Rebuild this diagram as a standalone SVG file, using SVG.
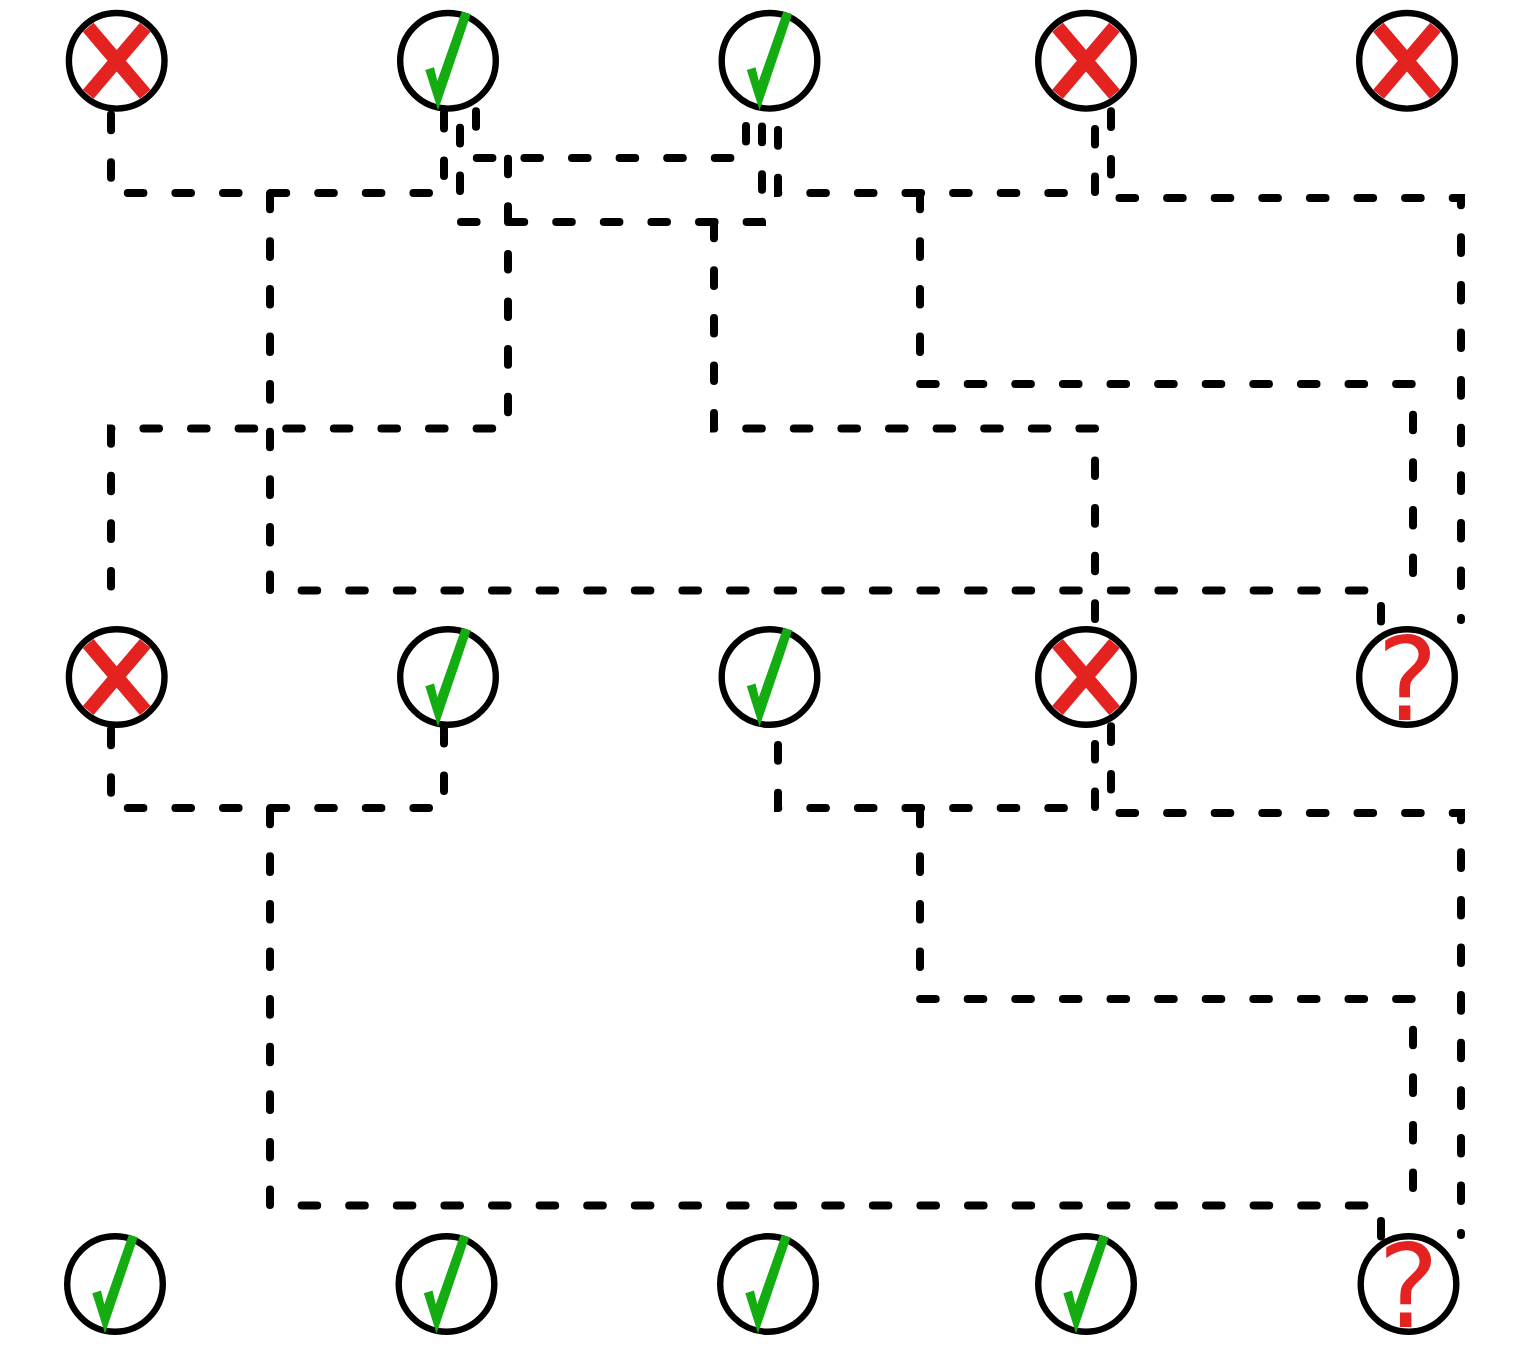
<svg xmlns="http://www.w3.org/2000/svg" width="1524" height="1350" viewBox="0 0 1524 1350">
<style>
.bg{fill:#fff}
.link{fill:none;stroke:#000;stroke-width:8;stroke-linecap:round;stroke-linejoin:miter;stroke-dasharray:15.6 32;stroke-dashoffset:-0.7}
.ring{fill:#fff;stroke:#000;stroke-width:6.4}
.x{stroke:#e42320;stroke-width:14;fill:none}
.ok{fill:#13ad12}
.q{font-family:"DejaVu Sans",sans-serif;font-size:115px;fill:#e42320;text-anchor:middle}
</style>
<defs>
<g id="no"><circle class="ring" r="47.8"/><path class="x" d="M-28.5-33.5L28.5 33.5M28.5-33.5L-28.5 33.5"/></g>
<g id="yes"><circle class="ring" r="47.8"/><polygon class="ok" points="-10,49.5 22.7,-46.8 13.7,-49 -10.7,20.2 -14,6.5 -22.7,9.2"/></g>
<circle id="unk" class="ring" r="47.8"/>
</defs>
<rect class="bg" width="1524" height="1350"/>
<g id="connectors">
<path class="link" d="M111 66.3V193H444V66.3"/>
<path class="link" d="M460 79.5V222H762V79"/>
<path class="link" d="M476 62.9V158H746V62.9"/>
<path class="link" d="M778 81.8V193H1095V81.8"/>
<path class="link" d="M1111 63V198H1461V620"/>
<path class="link" d="M270 193V590.5H1381V625"/>
<path class="link" d="M920 193V384H1413V590"/>
<path class="link" d="M508 158V428.5H111V590"/>
<path class="link" d="M714 222V428.5H1095V660"/>
<path class="link" d="M111 681.3V808H444V681.3"/>
<path class="link" d="M778 696.8V808H1095V696.8"/>
<path class="link" d="M1111 678V813H1461V1235"/>
<path class="link" d="M270 808V1205.5H1381V1240"/>
<path class="link" d="M920 808V999H1413V1205"/>
</g>
<g id="n1-1" transform="translate(116.7 60.8)"><use href="#no"/></g>
<g id="n1-2" transform="translate(448 60.8)"><use href="#yes"/></g>
<g id="n1-3" transform="translate(769.5 60.8)"><use href="#yes"/></g>
<g id="n1-4" transform="translate(1086 60.8)"><use href="#no"/></g>
<g id="n1-5" transform="translate(1407 60.8)"><use href="#no"/></g>
<g id="n2-1" transform="translate(116.7 677)"><use href="#no"/></g>
<g id="n2-2" transform="translate(448 677)"><use href="#yes"/></g>
<g id="n2-3" transform="translate(769.5 677)"><use href="#yes"/></g>
<g id="n2-4" transform="translate(1086 677)"><use href="#no"/></g>
<g id="n2-5" transform="translate(1407 677)"><use href="#unk"/><text class="q" x="0.5" y="43">?</text></g>
<g id="n3-1" transform="translate(115 1284)"><use href="#yes"/></g>
<g id="n3-2" transform="translate(446.5 1284)"><use href="#yes"/></g>
<g id="n3-3" transform="translate(768 1284)"><use href="#yes"/></g>
<g id="n3-4" transform="translate(1086 1284)"><use href="#yes"/></g>
<g id="n3-5" transform="translate(1408.5 1284)"><use href="#unk"/><text class="q" x="0" y="43">?</text></g>
</svg>
